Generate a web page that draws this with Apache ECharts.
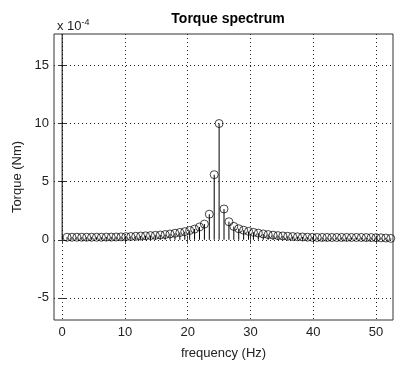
<!DOCTYPE html>
<html>
<head>
<meta charset="utf-8">
<script src="https://cdn.jsdelivr.net/npm/echarts@6/dist/echarts.min.js"></script>
<style>
  html, body { margin: 0; padding: 0; background: #fff; }
  #chart { width: 398px; height: 365px; }
</style>
</head>
<body>
<div id="chart"></div>
<script>
// frequency step 0.78125 Hz, torque in units of 1e-4 Nm
var df = 0.78125;
var torque = [
    30, 0.22, 0.22, 0.22, 0.22, 0.22, 0.22, 0.22, 0.22, 0.23,
    0.23, 0.24, 0.25, 0.27, 0.28, 0.3, 0.32, 0.34, 0.36, 0.38,
    0.41, 0.45, 0.5, 0.56, 0.63, 0.7, 0.8, 0.92, 1.1, 1.35,
    2.2, 5.6, 10.0, 2.65, 1.55, 1.15, 0.95, 0.82, 0.72, 0.64,
    0.57, 0.5, 0.45, 0.4, 0.36, 0.33, 0.3, 0.28, 0.26, 0.24,
    0.22, 0.21, 0.2, 0.2, 0.2, 0.2, 0.2, 0.2, 0.2, 0.2,
    0.2, 0.2, 0.19, 0.19, 0.18, 0.17, 0.15, 0.12
];
var xTicks = [0, 10, 20, 30, 40, 50];
var yTicks = [-5, 0, 5, 10, 15];

var points = torque.map(function (v, i) { return [i * df, v]; });

var font = 'Liberation Sans';
var gridDots = { show: true, lineStyle: { color: '#222', type: [1, 3], width: 1 } };

$chart = echarts.init(document.getElementById('chart'));
var option = {
    animation: false,
    backgroundColor: '#fff',
    title: [{
        text: 'Torque spectrum',
        left: 223, top: 7, textAlign: 'center',
        textStyle: { fontFamily: font, fontSize: 14, fontWeight: 'bold', color: '#000' }
    }, {
        text: 'x 10{sup|-4}',
        left: 52, top: 13,
        textStyle: {
            fontFamily: font, fontSize: 13, fontWeight: 'normal', color: '#222',
            rich: { sup: { fontFamily: font, fontSize: 9, verticalAlign: 'top', padding: [0, 0, 8, 0], color: '#222' } }
        }
    }],
    grid: { left: 54, right: 5, top: 34, bottom: 42, show: true, borderColor: '#333', borderWidth: 1 },
    xAxis: [{
        type: 'value', min: -1.3, max: 52.7,
        name: 'frequency (Hz)', nameLocation: 'middle', nameGap: 27,
        nameTextStyle: { fontFamily: font, fontSize: 13, color: '#222' },
        axisLine: { show: false },
        axisTick: { show: true, inside: true, length: 4, customValues: xTicks, lineStyle: { color: '#333' } },
        axisLabel: { customValues: xTicks, fontFamily: font, fontSize: 13, color: '#222', margin: 6 },
        splitLine: gridDots
    }, {
        type: 'value', min: -1.3, max: 52.7, position: 'top',
        axisLine: { show: false },
        axisTick: { show: true, inside: true, length: 4, customValues: xTicks, lineStyle: { color: '#333' } },
        axisLabel: { show: false, customValues: xTicks },
        splitLine: { show: false }
    }],
    yAxis: [{
        type: 'value', min: -6.9, max: 17.7,
        name: 'Torque (Nm)', nameLocation: 'middle', nameGap: 29,
        nameTextStyle: { fontFamily: font, fontSize: 13, color: '#222' },
        axisLine: { show: false },
        axisTick: { show: true, inside: true, length: 4, customValues: yTicks, lineStyle: { color: '#333' } },
        axisLabel: { customValues: yTicks, fontFamily: font, fontSize: 13, color: '#222', margin: 5 },
        splitLine: gridDots
    }, {
        type: 'value', min: -6.9, max: 17.7, position: 'right',
        axisLine: { show: false },
        axisTick: { show: true, inside: true, length: 4, customValues: yTicks, lineStyle: { color: '#333' } },
        axisLabel: { show: false, customValues: yTicks },
        splitLine: { show: false }
    }],
    series: [{
        // stems
        type: 'bar',
        data: points,
        barWidth: 1,
        clip: true,
        itemStyle: { color: '#000' },
        silent: true
    }, {
        // markers, unfilled like matlab stem
        type: 'scatter',
        data: points,
        symbol: 'circle',
        symbolSize: 8,
        clip: true,
        itemStyle: { color: 'rgba(255,255,255,0)', borderColor: '#000', borderWidth: 0.9 },
        z: 3
    }]
};
$chart.setOption(option);
</script>
</body>
</html>
